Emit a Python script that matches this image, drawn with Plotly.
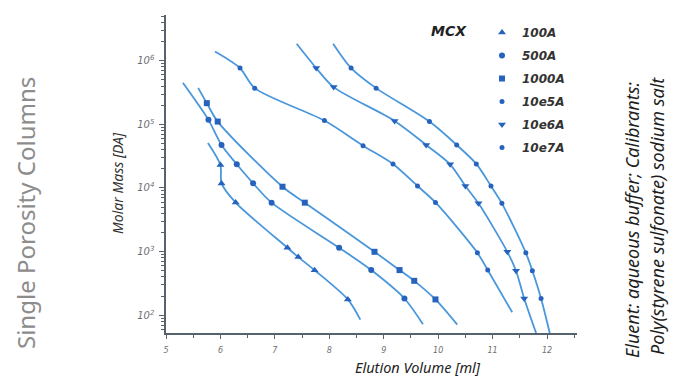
import plotly.graph_objects as go

# Column pore sizes (legend labels) and their marker symbols
series_names = ["100A", "500A", "1000A", "10e5A", "10e6A", "10e7A"]
symbols = ["triangle-up", "circle", "square", "circle", "triangle-down", "circle"]
marker_sizes = [7, 6, 6, 5, 7, 5]

# Calibrant elution volumes [ml] and molar masses [Da] per column
vol_100 = [6.00, 6.02, 6.28, 7.23, 7.43, 7.73, 8.34]
mm_100 = [23000, 11800, 5900, 1150, 820, 510, 177]

vol_500 = [5.78, 6.02, 6.30, 6.60, 6.94, 8.18, 8.77, 9.38]
mm_500 = [117800, 47500, 23600, 11860, 5880, 1150, 512, 183]

vol_1000 = [5.75, 5.95, 7.14, 7.55, 8.83, 9.29, 9.56, 9.95]
mm_1000 = [215800, 110700, 10470, 5880, 993, 512, 347, 177]

vol_10e5 = [6.36, 6.63, 7.91, 8.62, 9.17, 9.62, 9.95, 10.72, 10.91]
mm_10e5 = [767000, 371500, 114800, 46300, 23900, 10740, 5920, 957, 512]

vol_10e6 = [7.76, 8.08, 9.20, 9.78, 10.22, 10.50, 10.74, 11.27, 11.43, 11.58]
mm_10e6 = [767000, 385500, 113500, 47500, 23600, 10740, 5740, 993, 499, 183]

vol_10e7 = [8.40, 8.86, 9.84, 10.34, 10.70, 10.97, 11.17, 11.61, 11.73, 11.89]
mm_10e7 = [767000, 371500, 110700, 47500, 23900, 10740, 5740, 957, 499, 183]

# Ends of each fitted calibration curve (volume, molar mass)
curve_start_vol = [5.77, 5.31, 5.59, 5.90, 7.40, 8.07]
curve_start_mm = [51200, 450800, 375800, 1400000, 1850000, 1850000]
curve_end_vol = [8.57, 9.72, 10.35, 11.36, 11.80, 12.05]
curve_end_mm = [85, 72, 71, 111, 52, 52]

volumes = [vol_100, vol_500, vol_1000, vol_10e5, vol_10e6, vol_10e7]
masses = [mm_100, mm_500, mm_1000, mm_10e5, mm_10e6, mm_10e7]

line_color = "#4a97dc"
marker_color = "#2763bd"

fig = go.Figure()

for i, name in enumerate(series_names):
    xs = [curve_start_vol[i]] + volumes[i] + [curve_end_vol[i]]
    ys = [curve_start_mm[i]] + masses[i] + [curve_end_mm[i]]
    fig.add_trace(go.Scatter(
        x=xs, y=ys, mode="lines",
        line=dict(color=line_color, width=1.8, shape="spline", smoothing=0.8),
        showlegend=False, hoverinfo="skip", cliponaxis=True,
    ))

for i, name in enumerate(series_names):
    fig.add_trace(go.Scatter(
        x=volumes[i], y=masses[i], mode="markers", name=name,
        legendgroup=name,
        marker=dict(symbol=symbols[i], size=marker_sizes[i], color=marker_color),
    ))

# plot area in pixels: x 166..577, y 15..333
L, R, T, B = 166, 577, 15, 333
W, H = 675, 376


def fx(px):
    return (px - L) / (R - L)


def fy(py):
    return (B - py) / (B - T)


axis_color = "#56636f"
tick_font = dict(family="DejaVu Sans", size=8, color="#6f6f6f", style="italic")

fig.update_layout(
    width=W, height=H,
    margin=dict(l=L, r=W - R, t=T, b=H - B, pad=0),
    paper_bgcolor="white", plot_bgcolor="white",
    showlegend=True,
    legend=dict(
        x=fx(482), y=fy(18), xanchor="left", yanchor="top",
        bgcolor="rgba(0,0,0,0)", borderwidth=0,
        font=dict(family="DejaVu Sans", size=12, color="#333333",
                  style="italic", weight="bold"),
        tracegroupgap=4, itemwidth=30, traceorder="grouped",
    ),
    xaxis=dict(
        range=[5, 12.55], dtick=1, tick0=5,
        showline=True, linecolor=axis_color, linewidth=2,
        ticks="outside", ticklen=4, tickwidth=1.2, tickcolor=axis_color,
        minor=dict(dtick=0.5, ticks="outside", ticklen=3, tickcolor=axis_color),
        showgrid=False, zeroline=False, tickfont=tick_font,
        ticklabelstandoff=4,
    ),
    yaxis=dict(
        type="log", range=[1.72, 6.72], dtick=1,
        exponentformat="power", showexponent="all",
        showline=True, linecolor=axis_color, linewidth=2,
        ticks="outside", ticklen=5, tickwidth=1.2, tickcolor=axis_color,
        minor=dict(dtick="D1", ticks="outside", ticklen=3, tickcolor=axis_color),
        showgrid=False, zeroline=False, tickfont=tick_font,
        ticklabelstandoff=3,
    ),
)

annotations = [
    dict(text="MCX", x=fx(449), y=fy(31), xanchor="center", yanchor="middle",
         font=dict(family="DejaVu Sans", size=14, color="#222222",
                   style="italic", weight="bold")),
    dict(text="Molar Mass [DA]", x=fx(117), y=fy(183), textangle=-90,
         xanchor="center", yanchor="middle",
         font=dict(family="Noto Sans", size=14, color="#333333", style="italic")),
    dict(text="Elution Volume [ml]", x=fx(418), y=fy(367),
         xanchor="center", yanchor="middle",
         font=dict(family="Noto Sans", size=14.5, color="#222222", style="italic")),
    dict(text="Single Porosity Columns", x=fx(25), y=fy(213), textangle=-90,
         xanchor="center", yanchor="middle",
         font=dict(family="Noto Sans", size=24, color="#8c8c8c")),
    dict(text="Eluent: aqueous buffer; Calibrants:", x=fx(632), y=fy(220),
         textangle=-90, xanchor="center", yanchor="middle",
         font=dict(family="Noto Sans", size=18, color="#1e1e1e", style="italic")),
    dict(text="Poly(styrene sulfonate) sodium salt", x=fx(657), y=fy(216),
         textangle=-90, xanchor="center", yanchor="middle",
         font=dict(family="Noto Sans", size=18, color="#1e1e1e", style="italic")),
]
for a in annotations:
    a.update(xref="paper", yref="paper", showarrow=False)
fig.update_layout(annotations=annotations)

fig.write_html("out.html")
